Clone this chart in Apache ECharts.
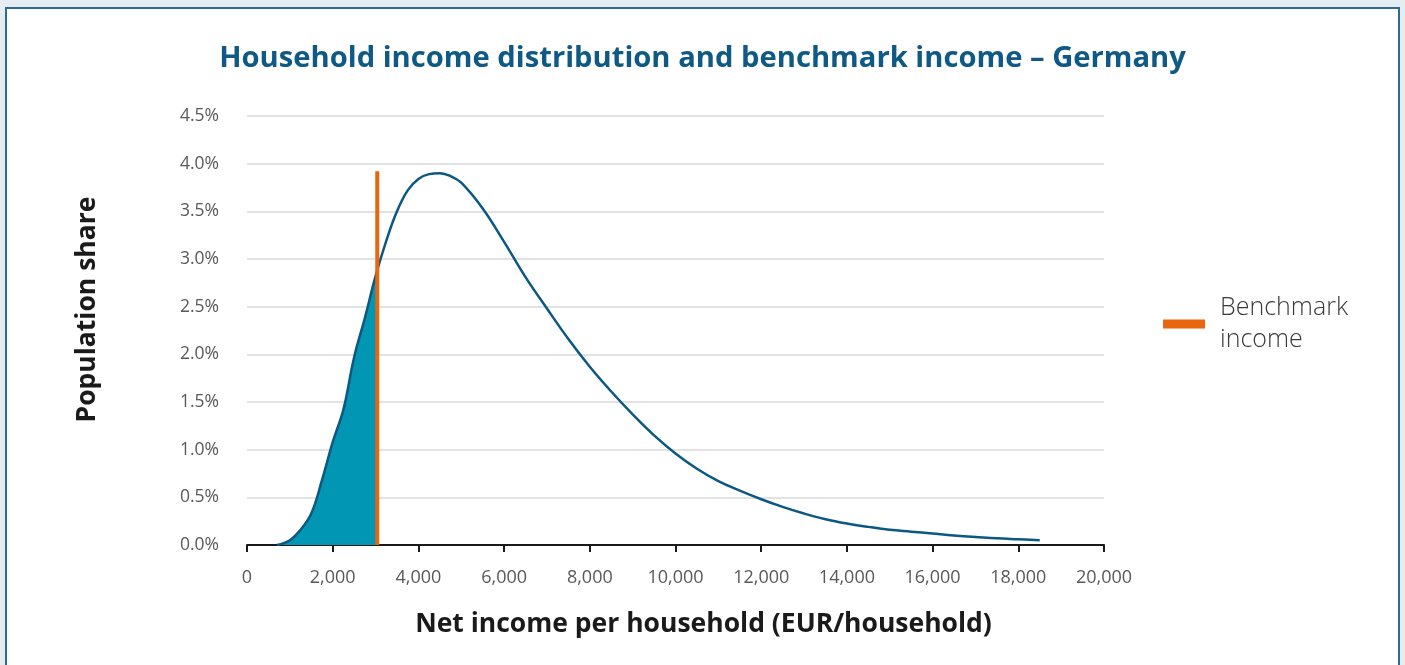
<!DOCTYPE html>
<html>
<head>
<meta charset="utf-8">
<script src="https://cdn.jsdelivr.net/npm/echarts@6/dist/echarts.min.js"></script>
<style>
  html, body { margin: 0; padding: 0; background: #e5edf1; }
  .panel {
    position: absolute; left: 5px; top: 7px; width: 1395px; height: 680px;
    background: #fff; border: 2px solid #2b6b96; box-sizing: border-box;
  }
  #chart { position: absolute; left: 0; top: 0; width: 1405px; height: 665px; }
</style>
</head>
<body>
<div class="panel"></div>
<div id="chart"></div>
<script>
// income (EUR/household) and population share (%)
const incomes = [700, 1000, 1250, 1500, 1750, 2000, 2250, 2500, 2750, 3000, 3250, 3500, 3750, 4000, 4250, 4500, 4750, 5000, 5500, 6000, 6500, 7000, 7500, 8000, 8500, 9000, 9500, 10000, 10500, 11000, 11500, 12000, 12500, 13000, 13500, 14000, 14500, 15000, 15500, 16000, 16500, 17000, 17500, 18000, 18500];
const shares = [0, 0.05, 0.16, 0.33, 0.68, 1.08, 1.42, 1.97, 2.38, 2.82, 3.19, 3.50, 3.72, 3.84, 3.89, 3.90, 3.87, 3.80, 3.53, 3.18, 2.81, 2.48, 2.16, 1.87, 1.61, 1.37, 1.15, 0.96, 0.80, 0.67, 0.57, 0.48, 0.40, 0.33, 0.27, 0.225, 0.19, 0.16, 0.14, 0.12, 0.10, 0.085, 0.07, 0.06, 0.05];
const benchmarkIncome = 3040;
const benchmarkTop = 3.92;
const xTicks = [0, 2000, 4000, 6000, 8000, 10000, 12000, 14000, 16000, 18000, 20000];

const curve = incomes.map((x, i) => [x, shares[i]]);

// area is filled only left of the benchmark (sharp gradient stop)
const cut = (benchmarkIncome - incomes[0]) / (incomes[incomes.length - 1] - incomes[0]);
const shade = new echarts.graphic.LinearGradient(0, 0, 1, 0, [
  { offset: 0, color: '#0096b4' },
  { offset: cut, color: '#0096b4' },
  { offset: cut, color: 'rgba(0,150,180,0)' },
  { offset: 1, color: 'rgba(0,150,180,0)' }
]);

const chart = echarts.init(document.getElementById('chart'));
chart.setOption({
  textStyle: { fontFamily: 'Open Sans' },
  title: {
    text: 'Household income distribution and benchmark income – Germany',
    left: 'center', top: 39,
    textStyle: { fontFamily: 'Open Sans', fontWeight: 'bold', fontSize: 29.2, color: '#0f5a85' }
  },
  legend: {
    right: 52, top: 287, orient: 'vertical',
    itemWidth: 42, itemHeight: 9, itemGap: 10,
    data: [{ name: 'Benchmark\nincome', icon: 'rect' }],
    textStyle: { fontSize: 25, fontWeight: 300, color: '#3a3a3a', lineHeight: 32, padding: [0, 0, 0, 10] }
  },
  grid: { left: 247, right: 301, top: 116, bottom: 120 },
  xAxis: {
    type: 'value', min: 0, max: 20000, interval: 2000,
    name: 'Net income per household (EUR/household)',
    nameLocation: 'middle', nameGap: 66,
    nameTextStyle: { fontSize: 26.5, fontWeight: 'bold', color: '#1a1a1a', padding: [0, 0, 0, 56] },
    axisLine: { lineStyle: { color: '#1a1a1a', width: 2 } },
    axisTick: { show: true, length: 7, lineStyle: { color: '#1a1a1a', width: 2 } },
    axisLabel: {
      margin: 24, fontSize: 18, color: '#595959',
      formatter: v => xTicks.includes(v) ? v.toLocaleString('en-US') : ''
    },
    splitLine: { show: false }
  },
  yAxis: {
    type: 'value', min: 0, max: 4.5, interval: 0.5,
    name: 'Population share', nameLocation: 'middle', nameGap: 146, nameRotate: 90,
    nameTextStyle: { fontSize: 26.5, fontWeight: 'bold', color: '#1a1a1a', padding: [0, 0, 0, 42] },
    axisLine: { show: false }, axisTick: { show: false },
    axisLabel: { margin: 28, fontSize: 17.5, color: '#595959', formatter: v => v.toFixed(1) + '%' },
    splitLine: { lineStyle: { color: '#d9d9d9', width: 1.5 } }
  },
  series: [
    {
      type: 'line', data: curve, smooth: 0.4, symbol: 'none', silent: true,
      lineStyle: { width: 0 },
      areaStyle: { color: shade, opacity: 1 }, z: 1
    },
    {
      type: 'line', data: curve, smooth: 0.4, symbol: 'none', silent: true,
      lineStyle: { color: '#0b5883', width: 2.5 }, z: 3
    },
    {
      name: 'Benchmark\nincome', type: 'line', symbol: 'none', silent: true,
      data: [[benchmarkIncome, 0], [benchmarkIncome, benchmarkTop]],
      itemStyle: { color: '#e8660d' },
      lineStyle: { color: '#e8660d', width: 4 }, z: 4
    }
  ]
});
</script>
</body>
</html>
